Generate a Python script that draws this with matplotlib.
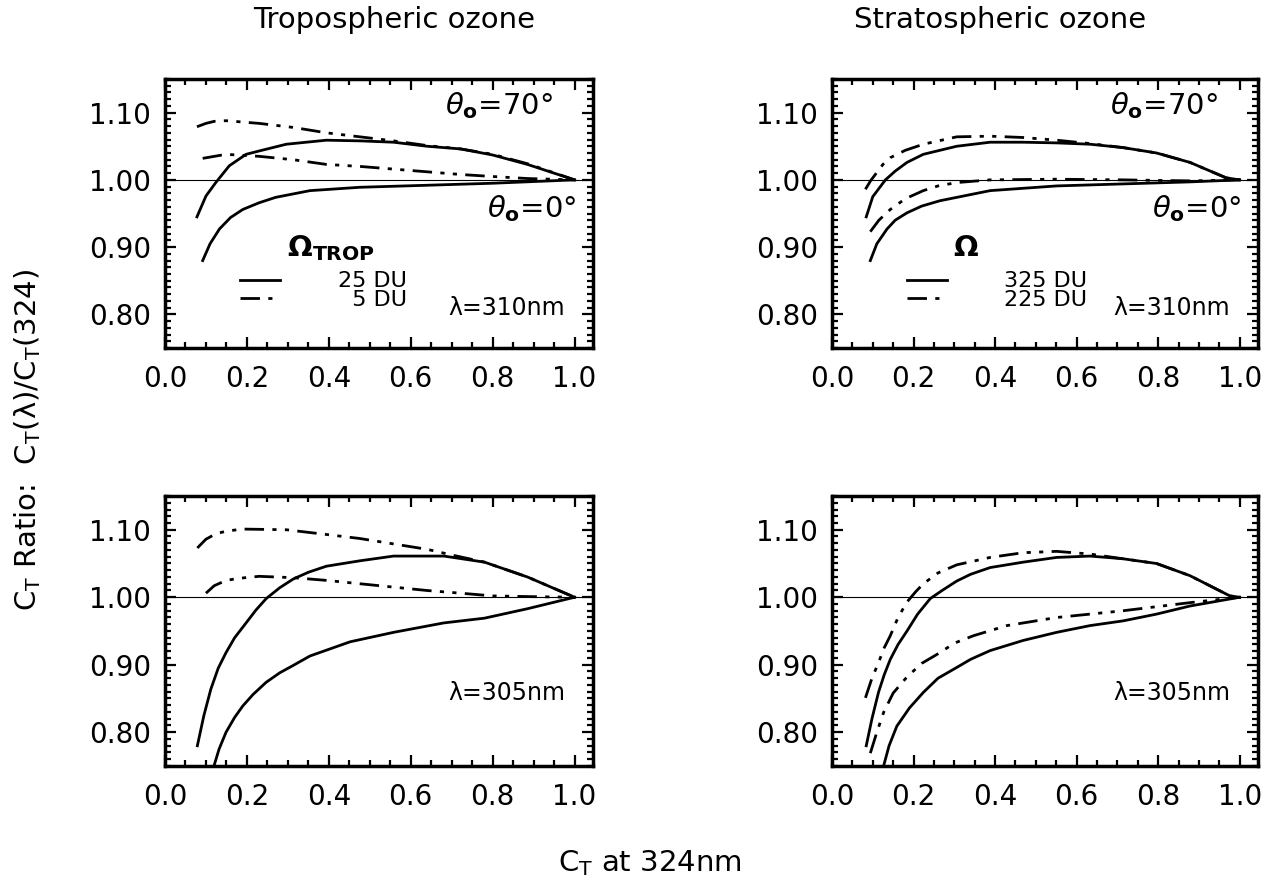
import numpy as np
import matplotlib
matplotlib.use("Agg")
import matplotlib.pyplot as plt
from matplotlib.ticker import MultipleLocator, FormatStrFormatter

# ---- data ----
# tropospheric ozone, lambda = 310 nm
t310_25_70_x = [0.078, 0.100, 0.124, 0.157, 0.198, 0.230, 0.296, 0.394, 0.476, 0.558, 0.640, 0.722, 0.800, 0.885, 1.0]
t310_25_70_y = [0.945, 0.976, 0.996, 1.021, 1.038, 1.043, 1.053, 1.059, 1.058, 1.056, 1.050, 1.046, 1.037, 1.023, 1.0]
t310_25_0_x = [0.092, 0.110, 0.133, 0.160, 0.190, 0.230, 0.270, 0.354, 0.476, 0.640, 0.800, 1.0]
t310_25_0_y = [0.880, 0.905, 0.927, 0.944, 0.956, 0.966, 0.974, 0.984, 0.989, 0.992, 0.995, 1.0]
t310_5_70_x = [0.078, 0.100, 0.120, 0.149, 0.230, 0.313, 0.394, 0.476, 0.558, 0.640, 0.722, 0.800, 0.885, 1.0]
t310_5_70_y = [1.079, 1.084, 1.087, 1.088, 1.084, 1.078, 1.070, 1.064, 1.058, 1.051, 1.046, 1.038, 1.024, 1.0]
t310_5_0_x = [0.092, 0.149, 0.230, 0.313, 0.394, 0.476, 0.558, 0.640, 0.722, 0.800, 0.885, 1.0]
t310_5_0_y = [1.032, 1.038, 1.035, 1.030, 1.023, 1.020, 1.016, 1.012, 1.008, 1.005, 1.002, 1.0]

# stratospheric ozone, lambda = 310 nm
s310_325_70_x = [0.084, 0.100, 0.131, 0.155, 0.184, 0.224, 0.306, 0.388, 0.469, 0.551, 0.633, 0.714, 0.796, 0.878, 0.967, 1.0]
s310_325_70_y = [0.945, 0.975, 1.000, 1.013, 1.026, 1.038, 1.050, 1.056, 1.056, 1.055, 1.053, 1.048, 1.040, 1.026, 1.003, 1.0]
s310_325_0_x = [0.094, 0.110, 0.135, 0.155, 0.184, 0.220, 0.265, 0.388, 0.551, 0.714, 0.878, 1.0]
s310_325_0_y = [0.880, 0.905, 0.927, 0.940, 0.951, 0.961, 0.969, 0.984, 0.991, 0.994, 0.997, 1.0]
s310_225_70_x = [0.082, 0.095, 0.110, 0.125, 0.143, 0.180, 0.224, 0.306, 0.388, 0.469, 0.551, 0.633, 0.714, 0.796, 0.878, 0.967, 1.0]
s310_225_70_y = [0.986, 0.999, 1.011, 1.023, 1.033, 1.044, 1.053, 1.064, 1.065, 1.063, 1.059, 1.054, 1.048, 1.040, 1.026, 1.003, 1.0]
s310_225_0_x = [0.094, 0.115, 0.143, 0.180, 0.224, 0.260, 0.306, 0.388, 0.551, 0.714, 0.878, 1.0]
s310_225_0_y = [0.923, 0.940, 0.956, 0.972, 0.984, 0.991, 0.996, 1.000, 1.001, 1.000, 0.9985, 1.0]

# tropospheric ozone, lambda = 305 nm
t305_25_70_x = [0.079, 0.095, 0.112, 0.130, 0.149, 0.170, 0.198, 0.222, 0.247, 0.280, 0.313, 0.350, 0.394,
                0.476, 0.558, 0.681, 0.780, 0.885, 1.0]
t305_25_70_y = [0.780, 0.825, 0.864, 0.895, 0.918, 0.940, 0.962, 0.981, 0.998, 1.014, 1.027, 1.037, 1.046,
                1.054, 1.061, 1.061, 1.052, 1.030, 1.0]
t305_25_0_x = [0.120, 0.132, 0.149, 0.170, 0.190, 0.215, 0.247, 0.280, 0.313, 0.354, 0.452, 0.558, 0.681, 0.780, 0.885, 1.0]
t305_25_0_y = [0.751, 0.775, 0.800, 0.822, 0.839, 0.856, 0.874, 0.888, 0.899, 0.913, 0.934, 0.948, 0.962, 0.969, 0.983, 1.0]
t305_5_70_x = [0.079, 0.100, 0.124, 0.150, 0.190, 0.296, 0.394, 0.476, 0.558, 0.640, 0.705, 0.780, 0.885, 1.0]
t305_5_70_y = [1.073, 1.086, 1.094, 1.098, 1.101, 1.100, 1.093, 1.087, 1.079, 1.071, 1.062, 1.052, 1.030, 1.0]
t305_5_0_x = [0.100, 0.120, 0.149, 0.180, 0.230, 0.313, 0.394, 0.476, 0.558, 0.640, 0.722, 0.800, 0.885, 1.0]
t305_5_0_y = [1.006, 1.017, 1.025, 1.028, 1.031, 1.029, 1.025, 1.020, 1.015, 1.010, 1.006, 1.002, 1.001, 1.0]

# stratospheric ozone, lambda = 305 nm
s305_325_70_x = [0.084, 0.098, 0.114, 0.128, 0.143, 0.162, 0.184, 0.210, 0.241, 0.270, 0.306, 0.340, 0.388,
                 0.469, 0.551, 0.633, 0.714, 0.796, 0.878, 0.976, 1.0]
s305_325_70_y = [0.780, 0.820, 0.859, 0.885, 0.908, 0.930, 0.950, 0.975, 0.998, 1.010, 1.024, 1.034, 1.044,
                 1.052, 1.059, 1.061, 1.057, 1.050, 1.032, 1.002, 1.0]
s305_325_0_x = [0.127, 0.140, 0.159, 0.190, 0.224, 0.260, 0.306, 0.340, 0.388, 0.469, 0.551, 0.633, 0.714, 0.796, 0.878, 1.0]
s305_325_0_y = [0.751, 0.780, 0.809, 0.836, 0.859, 0.880, 0.896, 0.908, 0.921, 0.936, 0.948, 0.958, 0.965, 0.975, 0.987, 1.0]
s305_225_70_x = [0.082, 0.098, 0.114, 0.128, 0.143, 0.162, 0.184, 0.205, 0.224, 0.260, 0.306, 0.388, 0.469, 0.551,
                 0.633, 0.714, 0.796, 0.878, 0.976, 1.0]
s305_225_70_y = [0.851, 0.880, 0.903, 0.925, 0.943, 0.970, 0.993, 1.008, 1.020, 1.036, 1.048, 1.059, 1.066, 1.068,
                 1.064, 1.057, 1.050, 1.032, 1.002, 1.0]
s305_225_0_x = [0.094, 0.110, 0.127, 0.150, 0.184, 0.220, 0.265, 0.300, 0.347, 0.429, 0.551, 0.714, 0.878, 1.0]
s305_225_0_y = [0.769, 0.800, 0.830, 0.858, 0.882, 0.902, 0.918, 0.932, 0.943, 0.958, 0.970, 0.980, 0.992, 1.0]

titles = ["Tropospheric ozone", "Stratospheric ozone"]
trop_labels = ["25 DU", "  5 DU"]
strat_labels = ["325 DU", "225 DU"]

DDD = (0, (7, 3, 1.5, 3, 1.5, 3))   # IDL-ish dash dot dot
LW = 2.0

fig = plt.figure(figsize=(12.7, 8.81), dpi=100)
W, H = 1270.0, 881.0

def make_ax(x0, y0, x1, y1):
    ax = fig.add_axes([x0 / W, 1 - y1 / H, (x1 - x0) / W, (y1 - y0) / H])
    ax.set_xlim(0, 1.045)
    ax.set_ylim(0.75, 1.15)
    ax.xaxis.set_major_locator(MultipleLocator(0.2))
    ax.xaxis.set_minor_locator(MultipleLocator(0.05))
    ax.yaxis.set_major_locator(MultipleLocator(0.1))
    ax.yaxis.set_minor_locator(MultipleLocator(0.01))
    ax.xaxis.set_major_formatter(FormatStrFormatter("%.1f"))
    ax.yaxis.set_major_formatter(FormatStrFormatter("%.2f"))
    ax.tick_params(which="both", direction="in", top=True, right=True, width=1.6)
    ax.tick_params(which="major", length=8, labelsize=20, pad=10)
    ax.tick_params(which="minor", length=4)
    ax.tick_params(axis="x", which="major", pad=12)
    for s in ax.spines.values():
        s.set_linewidth(2.5)
    ax.axhline(1.0, color="black", lw=0.8)
    return ax

ax1 = make_ax(165, 79, 593, 348)
ax2 = make_ax(832, 79, 1258, 348)
ax3 = make_ax(165, 496, 593, 766)
ax4 = make_ax(832, 496, 1258, 766)

# top left
l1, = ax1.plot(t310_25_70_x, t310_25_70_y, "k-", lw=LW)
ax1.plot(t310_25_0_x, t310_25_0_y, "k-", lw=LW)
l2, = ax1.plot(t310_5_70_x, t310_5_70_y, color="k", ls=DDD, lw=LW)
ax1.plot(t310_5_0_x, t310_5_0_y, color="k", ls=DDD, lw=LW)

# top right
m1, = ax2.plot(s310_325_70_x, s310_325_70_y, "k-", lw=LW)
ax2.plot(s310_325_0_x, s310_325_0_y, "k-", lw=LW)
m2, = ax2.plot(s310_225_70_x, s310_225_70_y, color="k", ls=DDD, lw=LW)
ax2.plot(s310_225_0_x, s310_225_0_y, color="k", ls=DDD, lw=LW)

# bottom left
ax3.plot(t305_25_70_x, t305_25_70_y, "k-", lw=LW)
ax3.plot(t305_25_0_x, t305_25_0_y, "k-", lw=LW)
ax3.plot(t305_5_70_x, t305_5_70_y, color="k", ls=DDD, lw=LW)
ax3.plot(t305_5_0_x, t305_5_0_y, color="k", ls=DDD, lw=LW)

# bottom right
ax4.plot(s305_325_70_x, s305_325_70_y, "k-", lw=LW)
ax4.plot(s305_325_0_x, s305_325_0_y, "k-", lw=LW)
ax4.plot(s305_225_70_x, s305_225_70_y, color="k", ls=DDD, lw=LW)
ax4.plot(s305_225_0_x, s305_225_0_y, color="k", ls=DDD, lw=LW)

for ax in (ax1, ax2):
    ax.text(0.905, 0.90, r"$\theta_\mathbf{o}$=70°", transform=ax.transAxes,
            ha="right", va="center", fontsize=21)
    ax.text(0.96, 0.52, r"$\theta_\mathbf{o}$=0°", transform=ax.transAxes,
            ha="right", va="center", fontsize=21)
    ax.text(0.935, 0.15, "λ=310nm", transform=ax.transAxes,
            ha="right", va="center", fontsize=17)
for ax in (ax3, ax4):
    ax.text(0.935, 0.27, "λ=305nm", transform=ax.transAxes,
            ha="right", va="center", fontsize=17)

ax1.text(0.285, 0.37, r"$\mathbf{\Omega_{TROP}}$", transform=ax1.transAxes,
         ha="left", va="center", fontsize=21)
ax2.text(0.285, 0.37, r"$\mathbf{\Omega}$", transform=ax2.transAxes,
         ha="left", va="center", fontsize=21)

leg1 = ax1.legend([l1, l2], trop_labels, loc="upper left", bbox_to_anchor=(0.175, 0.285),
                  frameon=False, fontsize=16, handlelength=1.8, handletextpad=2.6,
                  labelspacing=-0.08, borderpad=0, borderaxespad=0)
leg2 = ax2.legend([m1, m2], strat_labels, loc="upper left", bbox_to_anchor=(0.175, 0.285),
                  frameon=False, fontsize=16, handlelength=1.8, handletextpad=2.6,
                  labelspacing=-0.08, borderpad=0, borderaxespad=0)

fig.text(394 / W, 1 - 20 / H, titles[0], ha="center", va="center", fontsize=21)
fig.text(1000 / W, 1 - 20 / H, titles[1], ha="center", va="center", fontsize=21)
fig.text(650 / W, 1 - 863 / H, r"C$_\mathrm{T}$ at 324nm", ha="center", va="center", fontsize=21)
fig.text(28 / W, 1 - 440 / H, r"C$_\mathrm{T}$ Ratio:  C$_\mathrm{T}$(λ)/C$_\mathrm{T}$(324)",
         ha="center", va="center", rotation=90, fontsize=21)

fig.savefig("out.png", dpi=100)
